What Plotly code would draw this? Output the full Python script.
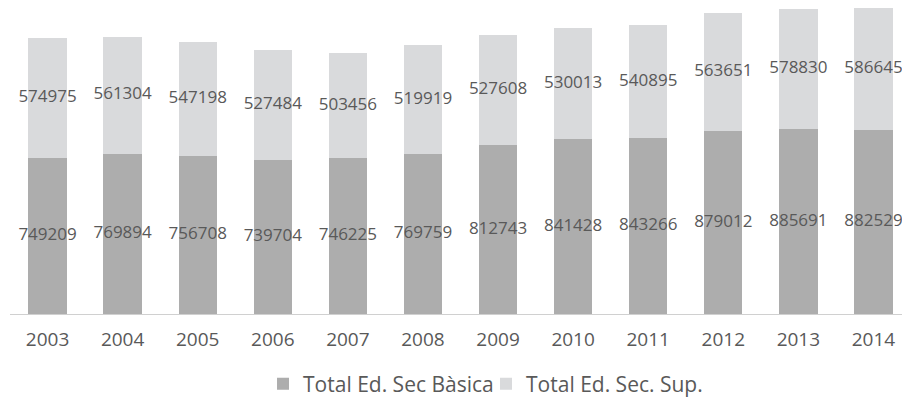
import plotly.graph_objects as go

years = ["2003", "2004", "2005", "2006", "2007", "2008", "2009", "2010", "2011", "2012", "2013", "2014"]
basica = [749209, 769894, 756708, 739704, 746225, 769759, 812743, 841428, 843266, 879012, 885691, 882529]
superior = [574975, 561304, 547198, 527484, 503456, 519919, 527608, 530013, 540895, 563651, 578830, 586645]

name_basica = "Total Ed. Sec Bàsica"
name_sup = "Total Ed. Sec. Sup."

c_basica = "#adadad"
c_sup = "#d9dadc"
txt = "#595959"
font_family = "Open Sans, Noto Sans, DejaVu Sans, sans-serif"

fig = go.Figure()
fig.add_trace(go.Bar(x=years, y=basica, name=name_basica, marker=dict(color=c_basica, line=dict(width=0))))
fig.add_trace(go.Bar(x=years, y=superior, name=name_sup, marker=dict(color=c_sup, line=dict(width=0))))

# labels at segment centres
fig.add_trace(go.Scatter(x=years, y=[b / 2 for b in basica], text=[str(v) for v in basica],
                         mode="text", textfont=dict(size=17, color=txt, family=font_family),
                         showlegend=False, hoverinfo="skip", cliponaxis=False))
fig.add_trace(go.Scatter(x=years, y=[b + s / 2 for b, s in zip(basica, superior)], text=[str(v) for v in superior],
                         mode="text", textfont=dict(size=17, color=txt, family=font_family),
                         showlegend=False, hoverinfo="skip", cliponaxis=False))

fig.update_layout(
    width=902, height=400,
    barmode="stack", bargap=0.49,
    plot_bgcolor="white", paper_bgcolor="white",
    margin=dict(l=10, r=0, t=0, b=86, autoexpand=False),
    font=dict(family=font_family, color=txt, size=17),
    showlegend=True,
    legend=dict(orientation="h", xref="container", x=0.2916, xanchor="left",
                yref="container", y=0.04, yanchor="middle",
                font=dict(size=21, color=txt), itemwidth=30, traceorder="normal",
                entrywidth=178, entrywidthmode="pixels",
                bgcolor="rgba(0,0,0,0)"),
    xaxis=dict(showline=True, linecolor="#d0d0d0", linewidth=1, showgrid=False,
               range=[-0.5, 11.38], automargin=False,
               ticks="outside", ticklen=8, tickcolor="rgba(0,0,0,0)",
               tickfont=dict(size=19, color=txt)),
    yaxis=dict(visible=False, range=[0, 1506300], showgrid=False, zeroline=False, automargin=False),
)

fig.write_html("out.html", config={"displayModeBar": False},
               post_script="document.body.style.margin='0';")
